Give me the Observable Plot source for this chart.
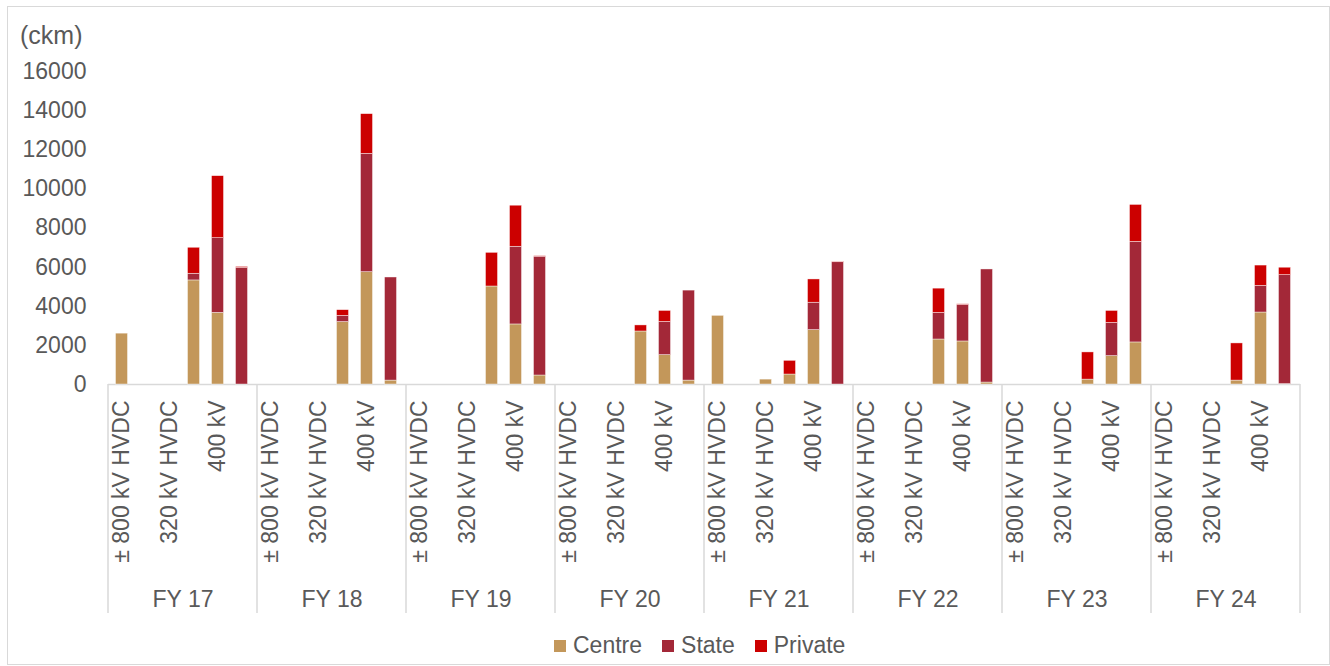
<!DOCTYPE html>
<html>
<head>
<meta charset="utf-8">
<script src="https://cdn.jsdelivr.net/npm/d3@7"></script>
<script src="https://cdn.jsdelivr.net/npm/@observablehq/plot@0.6"></script>
<style>
  html, body { margin: 0; padding: 0; background: #fff; }
  body { font-family: "Liberation Sans", Arial, sans-serif; color: #595959; width: 1330px; height: 666px; position: relative; overflow: hidden; }
  #frame { position: absolute; left: 7px; top: 6px; width: 1323px; height: 659px; border: 1.5px solid #d9d9d9; box-sizing: border-box; pointer-events: none; }
  #chart { position: absolute; left: 0; top: 0; }
  #unit { position: absolute; left: 20px; top: 21px; font-size: 25px; color: #595959; }
  #legend { position: absolute; left: 554px; top: 632px; display: flex; align-items: center; font-size: 23px; color: #595959; }
  #legend .item { display: flex; align-items: center; margin-right: 20px; }
  #legend .sw { width: 12px; height: 12px; margin-right: 7px; }
</style>
</head>
<body>
<div id="frame"></div>
<div id="chart"></div>
<div id="unit">(ckm)</div>
<div id="legend"></div>
<script>
// ---- data ----
const fys = ["FY 17", "FY 18", "FY 19", "FY 20", "FY 21", "FY 22", "FY 23", "FY 24"];
const categories = ["± 800 kV HVDC", "± 500 kV HVDC", "320 kV HVDC", "765 kV", "400 kV", "220 kV"];
const shownCategories = ["± 800 kV HVDC", "320 kV HVDC", "400 kV"];
const types = ["Centre", "State", "Private"];
const colors = ["#C3975A", "#A32838", "#CC0000"];
const yTicks = [0, 2000, 4000, 6000, 8000, 10000, 12000, 14000, 16000];

// rows: FY, columns: categories
const centre = [
  [2600, 0, 0, 5320, 3660, 0],
  [0, 0, 0, 3190, 5740, 200],
  [0, 0, 0, 5010, 3070, 460],
  [0, 0, 0, 2710, 1500, 200],
  [3510, 0, 250, 510, 2780, 0],
  [0, 0, 0, 2300, 2200, 100],
  [0, 0, 0, 250, 1450, 2150],
  [0, 0, 0, 200, 3680, 20]
];
const state = [
  [0, 0, 0, 340, 3820, 5960],
  [0, 0, 0, 320, 6050, 5270],
  [0, 0, 0, 0, 3970, 6070],
  [0, 0, 0, 0, 1700, 4600],
  [0, 0, 0, 0, 1400, 6250],
  [0, 0, 0, 1360, 1870, 5780],
  [0, 0, 0, 0, 1700, 5140],
  [0, 0, 0, 0, 1360, 5570]
];
const priv = [
  [0, 0, 0, 1330, 3170, 50],
  [0, 0, 0, 290, 2030, 0],
  [0, 0, 0, 1720, 2100, 30],
  [0, 0, 0, 310, 560, 0],
  [0, 0, 0, 700, 1190, 30],
  [0, 0, 0, 1240, 30, 0],
  [0, 0, 0, 1390, 610, 1890],
  [0, 0, 0, 1900, 1040, 380]
];

const seriesArrays = [centre, state, priv];
const rows = [];
fys.forEach((fy, i) => {
  categories.forEach((cat, j) => {
    types.forEach((type, k) => {
      const v = seriesArrays[k][i][j];
      if (v > 0) rows.push({fy, cat, type, value: v});
    });
  });
});

const FONT = "'Liberation Sans', Arial, sans-serif";

const plot = Plot.plot({
  width: 1330,
  height: 620,
  marginLeft: 107,
  marginRight: 30,
  marginTop: 71,
  marginBottom: 236,
  style: {fontFamily: FONT, fontSize: "23px", color: "#595959", background: "transparent", overflow: "visible"},
  fx: {domain: fys, padding: 0},
  x: {domain: categories, paddingInner: 0.5, paddingOuter: 0.25},
  y: {domain: [0, 16000]},
  color: {domain: types, range: colors},
  marks: [
    Plot.axisY({ticks: yTicks, tickSize: 0, tickPadding: 22, label: null, tickFormat: d => String(d)}),
    Plot.axisX({ticks: shownCategories, tickRotate: -90, tickSize: 0, tickPadding: 16, label: null, dx: -2}),
    Plot.axisFx({anchor: "bottom", tickSize: 0, tickPadding: 206, label: null}),
    Plot.ruleY([0], {stroke: "#d9d9d9", strokeWidth: 1.5}),
    Plot.barY(rows, Plot.stackY({order: types}, {
      fx: "fy", x: "cat", y: "value", fill: "type",
      stroke: "#ffffff", strokeWidth: 0.6, strokeOpacity: 0.7, dx: -1.5
    }))
  ]
});

document.getElementById("chart").appendChild(plot);

// group separators below the baseline, from the fx band scale
const fxScale = plot.scale("fx");
const yScale = plot.scale("y");
const y0 = yScale.apply(0);
const edges = fys.map(f => fxScale.apply(f));
edges.push(fxScale.apply(fys[fys.length - 1]) + fxScale.bandwidth);
d3.select(plot).append("g")
  .attr("stroke", "#d9d9d9").attr("stroke-width", 1.5)
  .selectAll("line").data(edges).join("line")
  .attr("x1", d => d).attr("x2", d => d)
  .attr("y1", y0).attr("y2", y0 + 229);

// legend
const lg = d3.select("#legend");
types.forEach((t, i) => {
  const it = lg.append("div").attr("class", "item");
  it.append("div").attr("class", "sw").style("background", colors[i]);
  it.append("span").text(t);
});
</script>
</body>
</html>
